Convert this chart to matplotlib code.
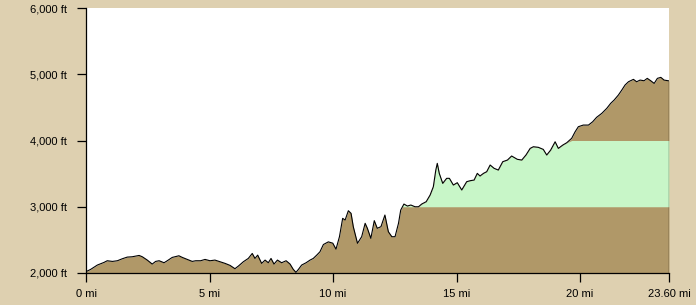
import numpy as np
import matplotlib
matplotlib.use('Agg')
import matplotlib.pyplot as plt
from matplotlib import rcParams

rcParams['font.family'] = ['Liberation Sans', 'DejaVu Sans']
rcParams['font.size'] = 8

# elevation profile
dist_mi = [0.00, 0.19, 0.46, 0.73, 0.86, 1.07, 1.27, 1.47, 1.67, 1.87,
           2.15, 2.28, 2.48, 2.68, 2.82, 2.96, 3.16, 3.29, 3.49, 3.76,
           3.90, 4.10, 4.30, 4.44, 4.64, 4.82, 5.02, 5.22, 5.43, 5.63,
           5.83, 6.03, 6.17, 6.37, 6.57, 6.73, 6.84, 6.95, 7.11, 7.25,
           7.38, 7.49, 7.61, 7.75, 7.92, 8.10, 8.26, 8.39, 8.50, 8.60,
           8.73, 8.91, 9.07, 9.20, 9.34, 9.47, 9.61, 9.81, 9.99, 10.12,
           10.26, 10.39, 10.49, 10.62, 10.73, 10.82, 10.99, 11.16, 11.30, 11.39,
           11.53, 11.67, 11.79, 11.94, 12.10, 12.24, 12.38, 12.51, 12.65, 12.74,
           12.87, 13.01, 13.15, 13.32, 13.46, 13.59, 13.77, 13.93, 14.06, 14.16,
           14.22, 14.30, 14.44, 14.60, 14.71, 14.87, 15.03, 15.21, 15.41, 15.55,
           15.71, 15.84, 15.95, 16.09, 16.22, 16.36, 16.52, 16.69, 16.87, 17.06,
           17.23, 17.46, 17.64, 17.81, 17.98, 18.11, 18.31, 18.51, 18.65, 18.81,
           18.99, 19.12, 19.30, 19.46, 19.66, 19.80, 19.93, 20.13, 20.34, 20.51,
           20.67, 20.88, 21.08, 21.24, 21.38, 21.55, 21.69, 21.82, 21.96, 22.16,
           22.29, 22.43, 22.59, 22.72, 22.86, 23.00, 23.13, 23.27, 23.40, 23.60]
elev_ft = [2020, 2055, 2120, 2160, 2185, 2175, 2185, 2215, 2240, 2245,
           2265, 2245, 2195, 2135, 2175, 2185, 2155, 2185, 2235, 2260,
           2235, 2205, 2175, 2185, 2185, 2205, 2185, 2195, 2170, 2145,
           2115, 2065, 2105, 2170, 2220, 2295, 2220, 2270, 2145, 2195,
           2155, 2220, 2135, 2195, 2155, 2185, 2135, 2055, 2010, 2055,
           2120, 2155, 2195, 2220, 2270, 2320, 2430, 2470, 2450, 2360,
           2548, 2825, 2800, 2940, 2900, 2699, 2448, 2548, 2750, 2675,
           2523, 2790, 2675, 2699, 2875, 2623, 2548, 2548, 2750, 2950,
           3041, 3011, 3026, 3000, 3000, 3041, 3076, 3177, 3302, 3554,
           3655, 3504, 3353, 3429, 3429, 3328, 3363, 3253, 3378, 3393,
           3403, 3504, 3464, 3504, 3529, 3630, 3580, 3554, 3680, 3705,
           3766, 3716, 3705, 3781, 3881, 3906, 3897, 3866, 3781, 3856,
           3981, 3881, 3931, 3966, 4033, 4132, 4208, 4233, 4233, 4283,
           4350, 4410, 4485, 4561, 4611, 4686, 4762, 4837, 4887, 4923,
           4887, 4912, 4902, 4938, 4902, 4862, 4938, 4953, 4912, 4900]

band_lo, band_hi = 3000, 4000
xticks = [0, 5, 10, 15, 20, 23.6]
xlabels = ['0 mi', '5 mi', '10 mi', '15 mi', '20 mi', '23.60 mi']
yticks = [2000, 3000, 4000, 5000, 6000]
ylabels = ['2,000 ft', '3,000 ft', '4,000 ft', '5,000 ft', '6,000 ft']

bg = '#DED0B0'
brown = '#B09868'
green = '#C8F6C8'

x = np.array(dist_mi)
y = np.array(elev_ft)

fig = plt.figure(figsize=(6.96, 3.05), dpi=100, facecolor=bg)
ax = fig.add_axes([86/696, 32/305, 583/696, 265/305])
ax.set_facecolor('white')

ax.fill_between(x, 2000, y, color=brown, lw=0)
ax.fill_between(x, band_lo, np.clip(y, band_lo, band_hi), color=green, lw=0)
ax.plot(x, y, color='black', lw=0.8)
ax.vlines(x[-1], 2000, y[-1], color='black', lw=0.9)

ax.set_xlim(0, 23.6)
ax.set_ylim(2000, 6000)
ax.set_xticks(xticks)
ax.set_xticklabels(xlabels)
ax.set_yticks(yticks)
ax.set_yticklabels(ylabels)

for s in ['top', 'right']:
    ax.spines[s].set_visible(False)
for s in ['left', 'bottom']:
    ax.spines[s].set_linewidth(0.9)
ax.tick_params(direction='out', length=6.5, width=0.9, colors='black', labelsize=8)
ax.tick_params(axis='y', pad=7)
ax.tick_params(axis='x', pad=5)

fig.savefig('out.png', dpi=100, facecolor=bg)
